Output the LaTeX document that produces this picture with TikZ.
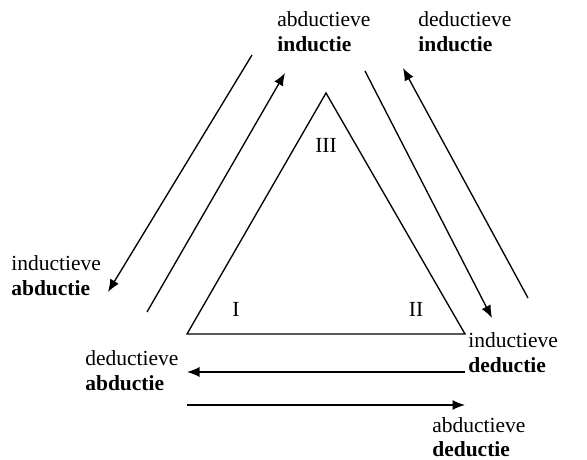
\documentclass[tikz,border=0pt]{standalone}
\usepackage{fontspec}
\setmainfont{Liberation Serif}
\usetikzlibrary{positioning, arrows.meta}

\begin{document}
\begin{tikzpicture}[x=0.6pt,y=-0.6pt]
			\tikzstyle{term}=[align=left,anchor=base west,inner sep=0pt,font=\fontsize{12.9}{15}\selectfont]
			\tikzstyle{corner}=[anchor=base,inner sep=0pt,font=\fontsize{12.9}{15}\selectfont]
			\useasboundingbox (0,0) rectangle (587,460);
			% the triangle
			\coordinate (c1) at (187,334);
			\coordinate (c2) at (465,334);
			\coordinate (c3) at (326,93);
			\draw[line width=0.8pt] (c1) -- (c2) -- (c3) -- cycle;
			\node[corner](n1) at (236,317) {I};
			\node[corner](n2) at (416,317) {II};
			\node[corner](n3) at (326,153) {III};
			% labels (anchored at the baseline of the bold line)
			\node[term](ai) at (277,52) {abductieve\\\textbf{inductie}};
			\node[term](di) at (418,52) {deductieve\\\textbf{inductie}};
			\node[term](ia) at (11,296) {inductieve\\\textbf{abductie}};
			\node[term](da) at (85,391) {deductieve\\\textbf{abductie}};
			\node[term](id) at (468,373) {inductieve\\\textbf{deductie}};
			\node[term](ad) at (432,457) {abductieve\\\textbf{deductie}};
			% arrow ends
			\coordinate (s1) at (252,55);  \coordinate (e1) at (108,292);
			\coordinate (s2) at (147,312); \coordinate (e2) at (285,73);
			\coordinate (s3) at (365,71);  \coordinate (e3) at (492,318);
			\coordinate (s4) at (528,298); \coordinate (e4) at (403,68);
			\coordinate (s5) at (465,372); \coordinate (e5) at (187,372);
			\coordinate (s6) at (187,405); \coordinate (e6) at (465,405);
			\path[-{Latex[length=7.5pt,width=6pt]},line width=0.8pt]
				(s1) edge (e1)
				(s2) edge (e2)
				(s3) edge (e3)
				(s4) edge (e4)
				(s5) edge (e5)
				(s6) edge (e6);
		\end{tikzpicture}
\end{document}
